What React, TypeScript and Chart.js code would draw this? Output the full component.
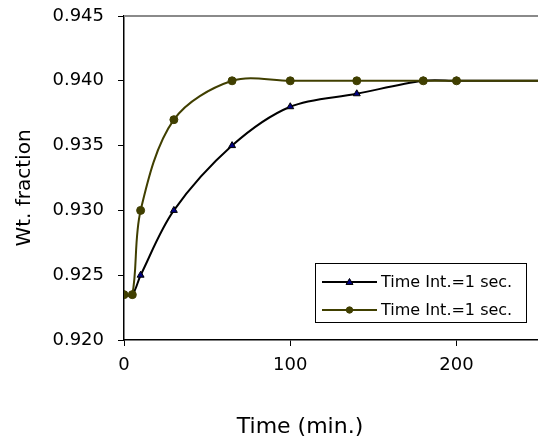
import React, { useEffect, useRef } from "react";
import { Chart, registerables } from "chart.js";

Chart.register(...registerables);

// ---- data ----
const timeMin = [0, 5, 10, 30, 65, 100, 140, 180, 200, 300];
const seriesA = [0.9235, 0.9235, 0.925, 0.93, 0.935, 0.938, 0.939, 0.94, 0.94, 0.94];
const seriesB = [0.9235, 0.9235, 0.93, 0.937, 0.94, 0.94, 0.94, 0.94, 0.94, 0.94];
const seriesLabels = ["Time Int.=1 sec.", "Time Int.=1 sec."];
const xAxisTitle = "Time (min.)";
const yAxisTitle = "Wt. fraction";
const xTickValues = [0, 100, 200];
const yTickValues = [0.92, 0.925, 0.93, 0.935, 0.94, 0.945];

const FONT = "'DejaVu Sans', 'Liberation Sans', Arial, sans-serif";
const COLOR_A = "#000000";
const MARKER_A = "#000080";
const COLOR_B = "#403f00";

const frameAndTitlePlugin = {
  id: "frameAndTitle",
  beforeDatasetsDraw(chart: any) {
    const { ctx, chartArea } = chart;
    ctx.save();
    ctx.strokeStyle = "#8a8a8a";
    ctx.lineWidth = 2;
    ctx.beginPath();
    ctx.moveTo(chartArea.left, chartArea.top);
    ctx.lineTo(chartArea.right, chartArea.top);
    ctx.stroke();
    ctx.restore();
  },
  afterDraw(chart: any, _args: any, opts: any) {
    const { ctx } = chart;
    ctx.save();
    ctx.fillStyle = "#000";
    ctx.textAlign = "center";
    ctx.textBaseline = "middle";
    ctx.font = `22px ${FONT}`;
    ctx.fillText(opts.xText, opts.xTitleX, opts.xTitleY);
    ctx.translate(opts.yTitleX, opts.yTitleY);
    ctx.rotate(-Math.PI / 2);
    ctx.font = `20px ${FONT}`;
    ctx.fillText(opts.yText, 0, 0);
    ctx.restore();
  },
};

const insideLegendPlugin = {
  id: "insideLegend",
  afterDraw(chart: any, _args: any, opts: any) {
    const { ctx } = chart;
    const { x, y, w, h, rowH, firstRow, lineStart, lineEnd, textX } = opts;
    ctx.save();
    ctx.fillStyle = "#ffffff";
    ctx.fillRect(x, y, w, h);
    ctx.strokeStyle = "#000000";
    ctx.lineWidth = 1;
    ctx.strokeRect(x + 0.5, y + 0.5, w, h);
    chart.data.datasets.forEach((ds: any, i: number) => {
      const cy = y + firstRow + i * rowH;
      ctx.strokeStyle = ds.borderColor;
      ctx.lineWidth = 2;
      ctx.beginPath();
      ctx.moveTo(x + lineStart, cy);
      ctx.lineTo(x + lineEnd, cy);
      ctx.stroke();
      const mx = x + (lineStart + lineEnd) / 2;
      ctx.fillStyle = ds.pointBackgroundColor;
      ctx.strokeStyle = ds.pointBorderColor;
      ctx.lineWidth = 1;
      ctx.beginPath();
      if (ds.pointStyle === "triangle") {
        const r = 3.5;
        ctx.moveTo(mx, cy - r);
        ctx.lineTo(mx + r, cy + r * 0.7);
        ctx.lineTo(mx - r, cy + r * 0.7);
        ctx.closePath();
      } else {
        ctx.arc(mx, cy, 3.2, 0, Math.PI * 2);
      }
      ctx.fill();
      ctx.stroke();
      ctx.fillStyle = "#000000";
      ctx.font = `16px ${FONT}`;
      ctx.textAlign = "left";
      ctx.textBaseline = "middle";
      ctx.fillText(ds.label, x + textX, cy + 1);
    });
    ctx.restore();
  },
};

export default function App() {
  const canvasRef = useRef<HTMLCanvasElement | null>(null);

  useEffect(() => {
    if (!canvasRef.current) return;
    const chart = new Chart(canvasRef.current, {
      type: "line",
      data: {
        datasets: [
          {
            label: seriesLabels[0],
            data: timeMin.map((t, i) => ({ x: t, y: seriesA[i] })),
            borderColor: COLOR_A,
            borderWidth: 2,
            pointStyle: "triangle",
            pointRadius: 4,
            pointBackgroundColor: MARKER_A,
            pointBorderColor: COLOR_A,
            pointBorderWidth: 1,
            tension: 1 / 3,
            order: 1,
          },
          {
            label: seriesLabels[1],
            data: timeMin.map((t, i) => ({ x: t, y: seriesB[i] })),
            borderColor: COLOR_B,
            borderWidth: 2,
            pointStyle: "circle",
            pointRadius: 4,
            pointBackgroundColor: COLOR_B,
            pointBorderColor: COLOR_B,
            pointBorderWidth: 1,
            tension: 1 / 3,
            order: 0,
          },
        ],
      },
      options: {
        animation: false,
        responsive: true,
        maintainAspectRatio: false,
        layout: { padding: { top: 16, right: 0, bottom: 0, left: 0 } },
        plugins: {
          legend: { display: false },
          tooltip: { enabled: false },
          frameAndTitle: {
            xText: xAxisTitle,
            xTitleX: 300,
            xTitleY: 427,
            yText: yAxisTitle,
            yTitleX: 25,
            yTitleY: 188,
          },
          insideLegend: {
            x: 315,
            y: 263,
            w: 211,
            h: 59,
            rowH: 28,
            firstRow: 19,
            lineStart: 7,
            lineEnd: 62,
            textX: 66,
          },
        } as any,
        scales: {
          x: {
            type: "linear",
            min: 0,
            max: 249,
            afterFit: (s: any) => {
              s.height = 106;
              s.paddingLeft = 0;
              s.paddingRight = 0;
            },
            afterBuildTicks: (s: any) => {
              s.ticks = xTickValues.map((v) => ({ value: v }));
            },
            ticks: {
              color: "#000",
              font: { family: FONT, size: 18 },
              padding: 9,
              maxRotation: 0,
              callback: (v: any) => String(v),
            },
            grid: {
              drawOnChartArea: false,
              drawTicks: true,
              tickLength: 6,
              color: "#000",
              lineWidth: 1,
            },
            border: { display: true, color: "#000", width: 1.5 },
            title: { display: false },
          },
          y: {
            type: "linear",
            min: 0.92,
            max: 0.945,
            afterFit: (s: any) => {
              s.width = 124;
              s.paddingTop = 0;
              s.paddingBottom = 0;
            },
            afterBuildTicks: (s: any) => {
              s.ticks = yTickValues.map((v) => ({ value: v }));
            },
            ticks: {
              color: "#000",
              font: { family: FONT, size: 18 },
              padding: 14,
              callback: (v: any) => Number(v).toFixed(3),
            },
            grid: {
              drawOnChartArea: false,
              drawTicks: true,
              tickLength: 6,
              color: "#000",
              lineWidth: 1,
            },
            border: { display: true, color: "#000", width: 1.5 },
            title: { display: false },
          },
        },
      },
      plugins: [frameAndTitlePlugin, insideLegendPlugin],
    });
    return () => chart.destroy();
  }, []);

  return (
    <div
      style={{
        position: "fixed",
        left: 0,
        top: 0,
        width: 538,
        height: 446,
        overflow: "hidden",
        background: "#fff",
      }}
    >
      <div style={{ position: "absolute", left: 0, top: 0, width: 543, height: 446 }}>
        <canvas ref={canvasRef} />
      </div>
    </div>
  );
}
